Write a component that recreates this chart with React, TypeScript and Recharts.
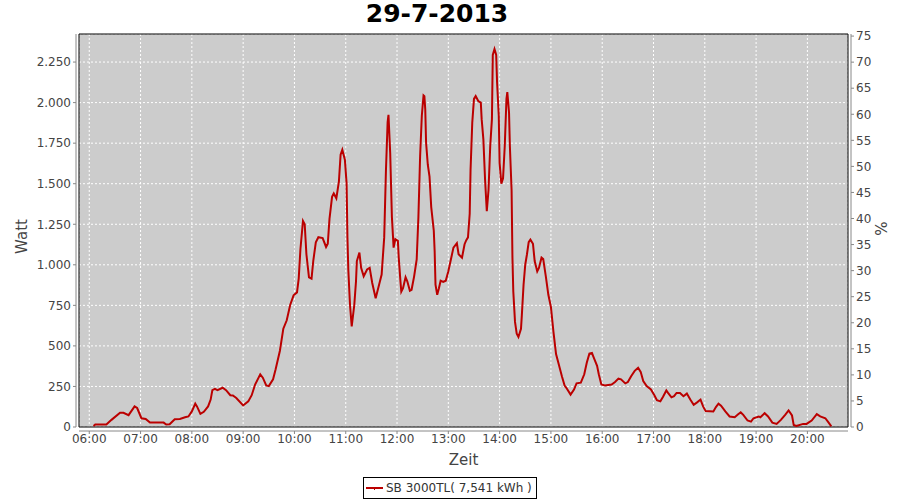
import { LineChart, Line, XAxis, YAxis, CartesianGrid, ReferenceArea } from 'recharts'

const title = '29-7-2013'
const seriesName = 'SB 3000TL( 7,541 kWh )'

// readings of the inverter, time of day + watt
const times = [
  '06:05', '06:07', '06:20', '06:26', '06:36', '06:40', '06:46', '06:53', '06:56', '07:01',
  '07:06', '07:11', '07:27', '07:30', '07:34', '07:40', '07:46', '07:52', '07:56', '08:00',
  '08:04', '08:06', '08:10', '08:14', '08:19', '08:22', '08:24', '08:27', '08:30', '08:36',
  '08:40', '08:45', '08:48', '08:52', '09:00', '09:06', '09:10', '09:14', '09:20', '09:23',
  '09:27', '09:30', '09:35', '09:38', '09:43', '09:47', '09:51', '09:55', '09:59', '10:03',
  '10:05', '10:07', '10:10', '10:12', '10:14', '10:17', '10:20', '10:22', '10:25', '10:28',
  '10:33', '10:37', '10:39', '10:41', '10:44', '10:46', '10:49', '10:52', '10:54', '10:56',
  '10:59', '11:01', '11:02', '11:03', '11:05', '11:07', '11:10', '11:12', '11:13', '11:16',
  '11:18', '11:21', '11:25', '11:28', '11:31', '11:35', '11:39', '11:42', '11:45', '11:47',
  '11:49', '11:50', '11:52', '11:54', '11:56', '11:58', '12:01', '12:02', '12:04', '12:05',
  '12:07', '12:10', '12:12', '12:15', '12:17', '12:20', '12:23', '12:25', '12:27', '12:29',
  '12:31', '12:32', '12:33', '12:34', '12:36', '12:38', '12:40', '12:43', '12:44', '12:45',
  '12:47', '12:49', '12:51', '12:54', '12:57', '13:00', '13:03', '13:06', '13:10', '13:12',
  '13:16', '13:19', '13:21', '13:23', '13:25', '13:26', '13:28', '13:30', '13:32', '13:35',
  '13:38', '13:39', '13:41', '13:43', '13:45', '13:47', '13:49', '13:51', '13:52', '13:54',
  '13:56', '13:57', '13:59', '14:00', '14:02', '14:04', '14:06', '14:08', '14:09', '14:11',
  '14:12', '14:14', '14:15', '14:16', '14:18', '14:20', '14:22', '14:25', '14:26', '14:28',
  '14:30', '14:32', '14:34', '14:36', '14:39', '14:41', '14:44', '14:46', '14:49', '14:51',
  '14:54', '14:57', '15:00', '15:03', '15:06', '15:09', '15:13', '15:16', '15:18', '15:23',
  '15:27', '15:30', '15:35', '15:39', '15:42', '15:45', '15:48', '15:50', '15:54', '15:56',
  '15:59', '16:03', '16:11', '16:15', '16:19', '16:22', '16:27', '16:30', '16:34', '16:38',
  '16:42', '16:45', '16:48', '16:52', '16:57', '17:01', '17:04', '17:08', '17:11', '17:15',
  '17:17', '17:21', '17:24', '17:27', '17:31', '17:35', '17:39', '17:43', '17:47', '17:51',
  '17:55', '17:58', '18:01', '18:10', '18:13', '18:16', '18:19', '18:24', '18:29', '18:35',
  '18:39', '18:42', '18:45', '18:50', '18:54', '18:57', '19:03', '19:05', '19:10', '19:14',
  '19:19', '19:24', '19:29', '19:34', '19:38', '19:42', '19:44', '19:47', '19:55', '19:59',
  '20:05', '20:11', '20:15', '20:21', '20:24', '20:28',
]

const watts = [
  6, 15, 15, 44, 88, 88, 73, 127, 117, 54,
  50, 27, 27, 15, 17, 48, 50, 60, 65, 96,
  144, 127, 81, 94, 127, 169, 227, 235, 227, 242,
  227, 196, 194, 179, 133, 158, 196, 262, 325, 304,
  256, 252, 294, 356, 470, 606, 658, 752, 812, 830,
  915, 1096, 1270, 1250, 1065, 923, 915, 1023, 1138, 1170,
  1165, 1110, 1130, 1283, 1419, 1440, 1410, 1513, 1679, 1710,
  1648, 1502, 1169, 971, 752, 620, 752, 898, 1023, 1075,
  981, 929, 971, 981, 888, 794, 877, 940, 1169, 1575,
  1880, 1925, 1690, 1294, 1106, 1158, 1148, 1044, 898, 835,
  856, 923, 898, 840, 846, 929, 1033, 1294, 1669, 1919,
  2045, 2040, 1960, 1752, 1617, 1544, 1356, 1210, 1085, 877,
  815, 856, 902, 894, 902, 960, 1033, 1106, 1133, 1065,
  1044, 1127, 1152, 1169, 1315, 1585, 1877, 2023, 2040, 2010,
  2000, 1898, 1773, 1523, 1330, 1460, 1731, 1898, 2294, 2330,
  2294, 2127, 1919, 1627, 1500, 1533, 1731, 2023, 2065, 1940,
  1731, 1460, 1044, 835, 648, 575, 555, 606, 690, 877,
  1002, 1065, 1140, 1155, 1130, 1023, 960, 981, 1044, 1035,
  930, 815, 740, 585, 450, 390, 310, 255, 242, 200,
  231, 269, 273, 325, 398, 452, 456, 429, 377, 325,
  262, 256, 262, 277, 298, 294, 269, 277, 315, 346,
  365, 340, 283, 252, 231, 196, 165, 158, 185, 225,
  210, 183, 190, 210, 210, 190, 206, 169, 137, 152,
  169, 127, 98, 96, 123, 144, 131, 96, 65, 60,
  79, 90, 75, 40, 33, 54, 65, 60, 85, 65,
  27, 19, 44, 75, 102, 71, 12, 6, 19, 19,
  40, 79, 65, 54, 33, 4,
]

const hourTicks = [
  '06:00', '07:00', '08:00', '09:00', '10:00', '11:00', '12:00', '13:00',
  '14:00', '15:00', '16:00', '17:00', '18:00', '19:00', '20:00',
]
const wattTicks = [0, 250, 500, 750, 1000, 1250, 1500, 1750, 2000, 2250]
const percentTicks = [0, 5, 10, 15, 20, 25, 30, 35, 40, 45, 50, 55, 60, 65, 70, 75]

const timeDomain = [348, 1247.5]
const wattDomain = [0, 2423]
const percentDomain = [0, 75.4]

const toMin = (s: string) => {
  const [h, m] = s.split(':').map(Number)
  return h * 60 + m
}
const fmtTime = (v: number) => {
  const h = Math.floor(v / 60)
  const m = Math.round(v % 60)
  return String(h).padStart(2, '0') + ':' + String(m).padStart(2, '0')
}
// german thousands separator
const fmtWatt = (v: number) => String(v).replace(/\B(?=(\d{3})+(?!\d))/g, '.')

const data = times.map((t, i) => ({ t: toMin(t), w: watts[i] }))

const LINE = '#bb0000'
const FONT = '"DejaVu Sans", sans-serif'
const tickStyle = { fill: '#444', fontSize: 12 }

export default function App() {
  return (
    <div style={{ position: 'absolute', left: 0, top: 0, width: 900, height: 500, background: '#fff', fontFamily: FONT }}>
      <style>{`
        .ax-x { transform: translate(0px, 4px); }
        .ax-left { transform: translate(-3px, 0px); }
        .ax-right { transform: translate(3px, 0px); }
      `}</style>
      <div style={{ position: 'absolute', left: 0, top: 0, width: 874, textAlign: 'center', fontSize: 25, lineHeight: '28px', fontWeight: 'bold', color: '#000' }}>
        {title}
      </div>
      <LineChart width={900} height={500} data={data} margin={{ top: 34, right: 0, bottom: 0, left: 0 }}>
        <CartesianGrid yAxisId="left" stroke="#fff" strokeDasharray="2 2" fill="#cccccc" fillOpacity={1} />
        <XAxis
          className="ax-x"
          dataKey="t"
          type="number"
          domain={timeDomain}
          allowDataOverflow
          ticks={hourTicks.map(toMin)}
          tickFormatter={fmtTime}
          tick={tickStyle}
          tickSize={3}
          tickMargin={4}
          height={73}
          stroke="#888"
          label={(p: any) => (
            <text x={p.viewBox.x + p.viewBox.width / 2} y={p.viewBox.y + 29} textAnchor="middle" dominantBaseline="central" fontSize={15} fill="#444">
              Zeit
            </text>
          )}
        />
        <YAxis
          yAxisId="left"
          className="ax-left"
          domain={wattDomain}
          allowDataOverflow
          ticks={wattTicks}
          tickFormatter={fmtWatt}
          tick={tickStyle}
          tickSize={3}
          tickMargin={5}
          width={79}
          stroke="#888"
          label={(p: any) => {
            const x = p.viewBox.x + 25
            const y = p.viewBox.y + p.viewBox.height / 2 + 6
            return (
              <text x={x} y={y} transform={`rotate(-90 ${x} ${y})`} textAnchor="middle" dominantBaseline="central" fontSize={15} fill="#444">
                Watt
              </text>
            )
          }}
        />
        <YAxis
          yAxisId="right"
          orientation="right"
          className="ax-right"
          domain={percentDomain}
          allowDataOverflow
          ticks={percentTicks}
          tick={tickStyle}
          tickSize={3}
          tickMargin={5}
          width={52}
          stroke="#888"
          label={(p: any) => {
            const x = p.viewBox.x + 31
            const y = p.viewBox.y + p.viewBox.height / 2 - 2
            return (
              <text x={x} y={y} transform={`rotate(-90 ${x} ${y})`} textAnchor="middle" dominantBaseline="central" fontSize={15} fill="#444">
                %
              </text>
            )
          }}
        />
        <ReferenceArea
          yAxisId="left"
          x1={timeDomain[0]}
          x2={timeDomain[1]}
          y1={wattDomain[0]}
          y2={wattDomain[1]}
          fill="none"
          fillOpacity={0}
          stroke="#000"
          strokeWidth={1}
        />
        <Line
          yAxisId="left"
          type="linear"
          dataKey="w"
          name={seriesName}
          stroke={LINE}
          strokeWidth={2}
          dot={false}
          isAnimationActive={false}
        />
      </LineChart>
      <div
        style={{
          position: 'absolute', left: 363, top: 477, width: 174, height: 22, boxSizing: 'border-box',
          border: '1px solid #000', display: 'flex', alignItems: 'center', fontSize: 12, color: '#333',
        }}
      >
        <svg width={20} height={10} style={{ marginLeft: 1, marginRight: 1 }}>
          <line x1={1} y1={5} x2={18} y2={5} stroke={LINE} strokeWidth={2} />
          <line x1={9.5} y1={5} x2={9.5} y2={7} stroke={LINE} strokeWidth={1} />
        </svg>
        <span>{seriesName}</span>
      </div>
    </div>
  )
}
